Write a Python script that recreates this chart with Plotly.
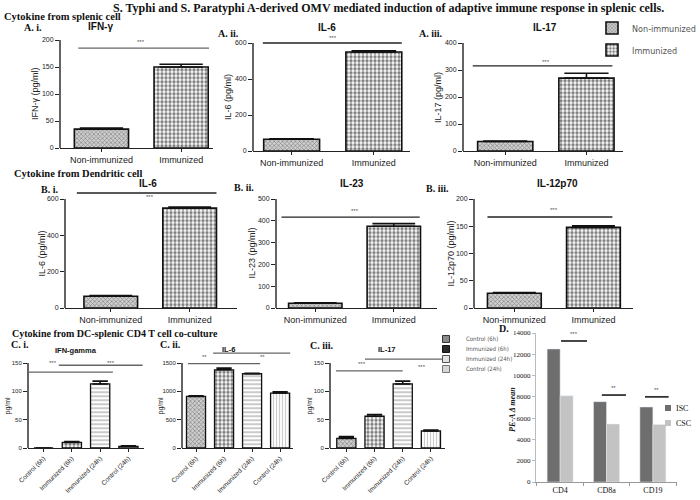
import plotly.graph_objects as go

W, H = 700, 500
SANS = "Liberation Sans, Arial, sans-serif"
SERIF = "Liberation Serif, Times New Roman, serif"
NARROW = "Liberation Sans Narrow, DejaVu Sans Condensed, Liberation Sans, sans-serif"

# ---- data ----
AB_CATS = ["Non-immunized", "Immunized"]
C_CATS = ["Control (6h)", "Immunized (6h)", "Immunized (24h)", "Control (24h)"]
D_CATS = ["CD4", "CD8a", "CD19"]
D_SERIES = ["ISC", "CSC"]

A1_IFNG = [35, 150]
A1_ERR = [2, 5]
A2_IL6 = [65, 550]
A2_ERR = [3, 7]
A3_IL17 = [35, 270]
A3_ERR = [2, 18]

B1_IL6 = [65, 550]
B1_ERR = [3, 6]
B2_IL23 = [22, 375]
B2_ERR = [2, 12]
B3_IL12P70 = [27, 148]
B3_ERR = [1.5, 3]

C1_IFNG = [0, 10, 113, 3]
C1_ERR = [0, 1.5, 5, 1]
C2_IL6 = [910, 1380, 1310, 970]
C2_ERR = [10, 30, 8, 20]
C3_IL17 = [17, 56, 113, 30]
C3_ERR = [3, 3, 5, 1.5]

D_ISC = [12500, 7550, 7050]
D_CSC = [8100, 5450, 5400]

# significance brackets: (y, from idx, to idx, label, label idx, label y)
A1_SIG = [(185, -0.29, 1.35, "***", 0.5, 197)]
A2_SIG = [(600, -0.35, 1.34, "***", 0.5, 630)]
A3_SIG = [(315, -0.4, 1.32, "***", 0.5, 328)]
B1_SIG = [(633, -0.43, 1.34, "***", 0.5, 612)]
B2_SIG = [(417, -0.43, 1.33, "***", 0.5, 447)]
B3_SIG = [(167, -0.34, 1.24, "***", 0.5, 180)]
C1_SIG = [(134, -0.55, 2.45, "***", 0.33, 150), (146, 0.54, 3.5, "***", 2.4, 150)]
C2_SIG = [(1490, -0.29, 2.29, "**", 0.32, 1600), (1676, 0.61, 3.36, "**", 2.36, 1600)]
C3_SIG = [(136, -0.37, 2.0, "***", 0.55, 148), (157, 0.66, 3.42, "***", 2.7, 143)]
D_SIG = [(13250, 0.02, 0.58, "***", 0.3, 13900), (8170, 0.9, 1.42, "**", 1.16, 8800),
         (8000, 1.83, 2.34, "**", 2.08, 8650)]

# ---- fills ----
FINE = dict(shape="x", size=3, solidity=0.4, fgcolor="#3a3a3a", bgcolor="#cfcfcf")
CHECK = dict(shape=".", size=4, solidity=0.55, fgcolor="#000", bgcolor="#fff")
HSTRIPE = dict(shape="-", size=4, solidity=0.4, fgcolor="#777", bgcolor="#fff")
VSTRIPE = dict(shape="|", size=3, solidity=0.4, fgcolor="#999", bgcolor="#fff")
D_COLORS = ["#6e6e6e", "#c3c3c3"]

# legend swatches of the co-culture key (symbol, fill, outline)
C_KEY = [("square", "#8a8a8a", "#333"), ("square", "#2a2a2a", "#111"),
         ("square", "#e2e2e2", "#555"), ("square", "#d6d6d6", "#777")]

# box = (left px, right px, px of top tick, px of zero)
panels = [
    dict(cats=AB_CATS, vals=A1_IFNG, err=A1_ERR, sig=A1_SIG, pat=[FINE, CHECK],
         box=(60, 213, 40, 148), xr=[-0.52, 1.4], top=200, dt=50, ytitle="IFN-γ (pg/ml)", tx=35),
    dict(cats=AB_CATS, vals=A2_IL6, err=A2_ERR, sig=A2_SIG, pat=[FINE, CHECK],
         box=(253, 410, 43, 151), xr=[-0.47, 1.44], top=600, dt=200, ytitle="IL-6 (pg/ml)", tx=228),
    dict(cats=AB_CATS, vals=A3_IL17, err=A3_ERR, sig=A3_SIG, pat=[FINE, CHECK],
         box=(463, 623, 43, 151), xr=[-0.52, 1.45], top=400, dt=100, ytitle="IL-17 (pg/ml)", tx=438),
    dict(cats=AB_CATS, vals=B1_IL6, err=B1_ERR, sig=B1_SIG, pat=[FINE, CHECK],
         box=(65, 237, 199, 308), xr=[-0.58, 1.6], top=600, dt=200, ytitle="IL-6 (pg/ml)", tx=41),
    dict(cats=AB_CATS, vals=B2_IL23, err=B2_ERR, sig=B2_SIG, pat=[FINE, CHECK],
         box=(276, 437, 199, 308), xr=[-0.5, 1.55], top=500, dt=100, ytitle="IL-23 (pg/ml)", tx=251),
    dict(cats=AB_CATS, vals=B3_IL12P70, err=B3_ERR, sig=B3_SIG, pat=[FINE, CHECK],
         box=(474, 633, 199, 308), xr=[-0.51, 1.5], top=200, dt=50, ytitle="IL-12p70 (pg/ml)", tx=450),
    dict(cats=C_CATS, vals=C1_IFNG, err=C1_ERR, sig=C1_SIG, pat=[FINE, CHECK, HSTRIPE, VSTRIPE],
         box=(28, 144, 363, 448), xr=[-0.55, 3.55], top=150, dt=50, ytitle="pg/ml", tx=7),
    dict(cats=C_CATS, vals=C2_IL6, err=C2_ERR, sig=C2_SIG, pat=[FINE, CHECK, HSTRIPE, VSTRIPE],
         box=(182, 293, 363, 448), xr=[-0.5, 3.46], top=1500, dt=500, ytitle="pg/ml", tx=160),
    dict(cats=C_CATS, vals=C3_IL17, err=C3_ERR, sig=C3_SIG, pat=[FINE, CHECK, HSTRIPE, VSTRIPE],
         box=(330, 445, 363, 448), xr=[-0.58, 3.5], top=150, dt=50, ytitle="pg/ml", tx=309),
]

fig = go.Figure()
layout = {}
annotations = []
shapes = []


def note(text, x, y, size, family=SERIF, bold=True, color="#111", xanchor="left"):
    annotations.append(dict(
        text=text, x=x / W, y=1 - y / H, xref="paper", yref="paper", showarrow=False,
        xanchor=xanchor, yanchor="middle",
        font=dict(family=family, size=size, color=color, weight="bold" if bold else "normal")))


for i, p in enumerate(panels):
    n = "" if i == 0 else str(i + 1)
    xname, yname = "x" + n, "y" + n
    left, right, ptop, pzero = p["box"]
    scale = (pzero - ptop) / p["top"]
    ymax = p["top"] * 1.15
    small = len(p["cats"]) == 4
    bar_w = 0.68
    bar_px = bar_w * (right - left) / (p["xr"][1] - p["xr"][0])
    for j, cat in enumerate(p["cats"]):
        fig.add_trace(go.Bar(
            x=[cat], y=[p["vals"][j]], xaxis=xname, yaxis=yname, width=bar_w, name=cat,
            marker=dict(color=p["pat"][j]["bgcolor"], pattern=p["pat"][j],
                        line=dict(color="#111", width=1.3 if small else 1.6)),
            error_y=dict(type="data", array=[p["err"][j]], arrayminus=[0], symmetric=False,
                         color="#111", thickness=1.6, width=bar_px * 0.4),
            showlegend=(i == 0), legend=["legend", "legend2"][j] if i == 0 else None,
        ))
    layout["xaxis" + n] = dict(
        domain=[left / W, right / W], anchor=yname, type="category",
        categoryorder="array", categoryarray=p["cats"], range=p["xr"],
        showline=True, linecolor="#222", linewidth=1.4, ticks="outside", ticklen=3,
        tickcolor="#222", showgrid=False, zeroline=False,
        tickangle=-45 if small else 0,
        tickfont=dict(family=SANS, size=6.5 if small else 9, color="#222"),
    )
    layout["yaxis" + n] = dict(
        domain=[1 - pzero / H, 1 - (pzero - ymax * scale) / H], anchor=xname,
        range=[0, ymax], tick0=0, dtick=p["dt"], showline=False, ticks="outside",
        ticklen=4, tickcolor="#222", showgrid=False, zeroline=False,
        tickfont=dict(family=SANS, size=6 if small else 7, color="#222"),
    )
    # y axis line up to the top tick
    shapes.append(dict(type="line", xref=xname + " domain", yref=yname, x0=0, x1=0,
                       y0=0, y1=p["top"], line=dict(color="#222", width=1.4)))
    for (yv, a, b, lab, lx, ly) in p["sig"]:
        shapes.append(dict(type="line", xref=xname, yref=yname, x0=a, x1=b, y0=yv, y1=yv,
                           line=dict(color="#666" if small or i == 0 else "#222", width=1.3)))
        annotations.append(dict(text=lab, x=lx, y=ly, xref=xname, yref=yname, showarrow=False,
                                xanchor="center", yanchor="middle",
                                font=dict(family=SANS, size=6, color="#555")))
    annotations.append(dict(text=p["ytitle"], x=p["tx"] / W, y=1 - (ptop + pzero) / 2 / H,
                            xref="paper", yref="paper", showarrow=False, textangle=-90,
                            xanchor="center", yanchor="middle",
                            font=dict(family=SANS, size=7 if small else 9, color="#222")))

# key of the co-culture panels
for j, cat in enumerate(C_CATS):
    sym, fill, edge = C_KEY[j]
    fig.add_trace(go.Scatter(x=[None], y=[None], xaxis="x7", yaxis="y7", mode="markers", name=cat,
                             marker=dict(symbol=sym, size=7, color=fill, line=dict(color=edge, width=1)),
                             legend="legend%d" % (j + 3)))

# ---- panel D ----
dx, dy = "x10", "y10"
for k, (name, vals) in enumerate(zip(D_SERIES, [D_ISC, D_CSC])):
    fig.add_trace(go.Bar(x=D_CATS, y=vals, xaxis=dx, yaxis=dy, width=0.28, offset=-0.28 + 0.28 * k,
                         name=name, marker=dict(color=D_COLORS[k]), showlegend=False))
    # small key: square + label
    ky = 408 + 15 * k
    shapes.append(dict(type="rect", xref="paper", yref="paper", x0=665 / W, x1=671 / W,
                       y0=1 - (ky + 3) / H, y1=1 - (ky - 3) / H, fillcolor=D_COLORS[k], line_width=0))
    note(name, 674, ky, 8, bold=False)
layout["xaxis10"] = dict(domain=[536 / W, 677 / W], anchor=dy, type="category", range=[-0.52, 2.52],
                         showline=True, linecolor="#999", linewidth=1, ticks="outside",
                         tickson="boundaries", ticklen=3, tickcolor="#999", showgrid=False,
                         tickfont=dict(family=SERIF, size=8, color="#111"))
layout["yaxis10"] = dict(domain=[1 - 482 / H, 1 - 333 / H], anchor=dx, range=[0, 14000],
                         dtick=2000, tickformat="d", showline=True, linecolor="#bbb", linewidth=1,
                         ticks="outside", ticklen=3, tickcolor="#bbb", showgrid=False, zeroline=False,
                         tickfont=dict(family=SERIF, size=7, color="#111"))
for (yv, a, b, lab, lx, ly) in D_SIG:
    shapes.append(dict(type="line", xref=dx, yref=dy, x0=a, x1=b, y0=yv, y1=yv,
                       line=dict(color="#333", width=1.8)))
    annotations.append(dict(text=lab, x=lx, y=ly, xref=dx, yref=dy, showarrow=False,
                            xanchor="center", yanchor="middle",
                            font=dict(family=SANS, size=6, color="#555")))
annotations.append(dict(text="<i>PE-A Δ mean</i>", x=512 / W, y=1 - 410 / H, xref="paper",
                        yref="paper", showarrow=False, textangle=-90, xanchor="center",
                        yanchor="middle", font=dict(family=SERIF, size=8, color="#111", weight="bold")))

# ---- headings and labels ----
note("S. Typhi and S. Paratyphi A-derived OMV mediated induction of adaptive immune response in splenic cells.",
     388, 8, 12, xanchor="center")
note("Cytokine from splenic cell", 2, 16, 10.5)
note("A. i.", 22, 27, 10)
note("A. ii.", 216, 33, 10)
note("A. iii.", 417, 33, 10)
note("IFN-γ", 100, 26, 10, family=SANS, xanchor="center")
note("IL-6", 327, 27, 10, family=SANS, xanchor="center")
note("IL-17", 545, 27, 10, family=SANS, xanchor="center")
note("Cytokine from Dendritic cell", 12, 173, 10.5)
note("B. i.", 39, 189, 10)
note("B. ii.", 232, 187, 10)
note("B. iii.", 424, 188, 10)
note("IL-6", 148, 183, 10, family=SANS, xanchor="center")
note("IL-23", 352, 183, 10, family=SANS, xanchor="center")
note("IL-12p70", 557, 183, 10, family=SANS, xanchor="center")
note("Cytokine from DC-splenic CD4 T cell co-culture", 10, 333, 10)
note("C. i.", 9, 344, 10)
note("C. ii.", 158, 344, 10)
note("C. iii.", 308, 345, 10)
note("IFN-gamma", 76, 350, 7.5, family=SANS, xanchor="center")
note("IL-6", 228, 349, 7.5, family=SANS, xanchor="center")
note("IL-17", 387, 349, 7.5, family=SANS, xanchor="center")
note("D.", 497, 328, 10)


def legend_at(x, y, size, family=NARROW, color="#555"):
    return dict(x=x / W, y=1 - y / H, xanchor="left", yanchor="middle", bgcolor="rgba(0,0,0,0)",
                borderwidth=0, font=dict(family=family, size=size, color=color),
                itemwidth=30, tracegroupgap=0)


layout.update(
    legend=legend_at(592, 28, 9),
    legend2=legend_at(592, 50, 9),
    legend3=legend_at(426, 339, 6),
    legend4=legend_at(426, 349, 6),
    legend5=legend_at(426, 359, 6),
    legend6=legend_at(426, 369, 6),
)

fig.update_layout(
    width=W, height=H, margin=dict(l=0, r=0, t=0, b=0, autoexpand=False),
    paper_bgcolor="white", plot_bgcolor="white", barmode="overlay",
    annotations=annotations, shapes=shapes, **layout,
)

fig.write_html("out.html", config={"displayModeBar": False},
               post_script="document.body.style.margin = '0';")
